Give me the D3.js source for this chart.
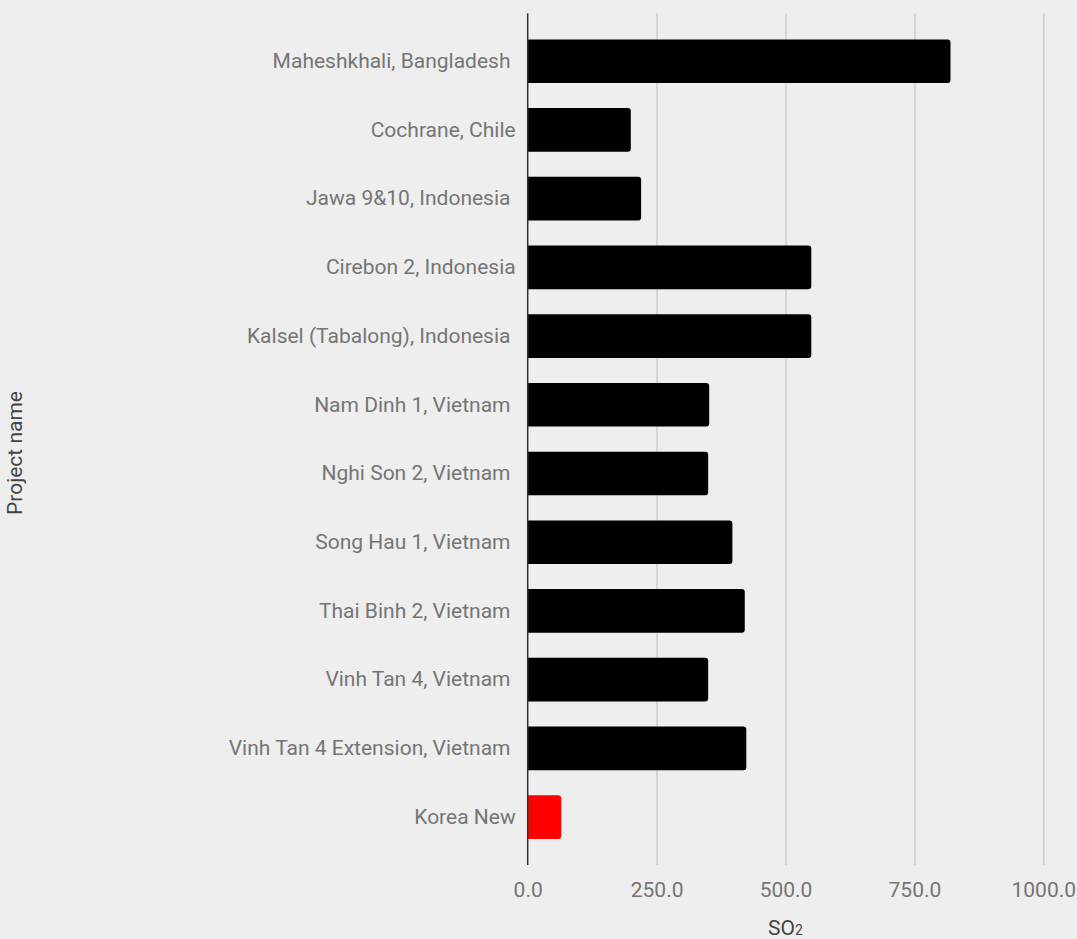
<!DOCTYPE html>
<html>
<head>
<meta charset="utf-8">
<script src="https://cdn.jsdelivr.net/npm/d3@7"></script>
<style>
  html, body { margin: 0; padding: 0; background: #eeeeee; }
  svg { display: block; font-family: Roboto, "Noto Sans", sans-serif; }
  .cat { white-space: pre; }
</style>
</head>
<body>
<script>
const categories = [
  "Maheshkhali, Bangladesh ",
  "Cochrane, Chile",
  "Jawa 9&10, Indonesia ",
  "Cirebon 2, Indonesia",
  "Kalsel (Tabalong), Indonesia ",
  "Nam Dinh 1, Vietnam ",
  "Nghi Son 2, Vietnam ",
  "Song Hau 1, Vietnam ",
  "Thai Binh 2, Vietnam ",
  "Vinh Tan 4, Vietnam ",
  "Vinh Tan 4 Extension, Vietnam ",
  "Korea New"
];
const so2Values = [820, 200, 220, 550, 550, 352, 350, 397, 421, 350, 424, 65];
const barColors = ["#000000","#000000","#000000","#000000","#000000","#000000","#000000","#000000","#000000","#000000","#000000","#ff0000"];
const tickValues = [0, 250, 500, 750, 1000];
const xTitle = "SO";
const xTitleSub = "2";
const yTitle = "Project name";

(function () {
const W = 1077, H = 939;
const svg = d3.select("body").append("svg").attr("width", W).attr("height", H);
svg.append("rect").attr("width", W).attr("height", H).attr("fill", "#eeeeee");

const pL = 527.7, pR = 1043.3, pT = 13.3, pB = 865;
const x = d3.scaleLinear().domain([0, 1000]).range([pL, pR]);
const y = d3.scaleBand().domain(categories).range([pT, pB]).paddingInner(0.365).paddingOuter(0.38);

// gridlines
const grid = svg.append("g")
  .attr("transform", `translate(0,${pB})`)
  .call(d3.axisBottom(x).tickValues(tickValues).tickSize(-(pB - pT)).tickFormat(""));
grid.select(".domain").remove();
grid.selectAll(".tick line").attr("stroke", "#cccccc").attr("stroke-width", 1.5);
grid.selectAll(".tick").filter(d => d === 0).remove();

// tick labels
const xAxis = svg.append("g")
  .attr("transform", `translate(0,${pB})`)
  .call(d3.axisBottom(x).tickValues(tickValues).tickSize(0).tickPadding(17).tickFormat(d3.format(".1f")));
xAxis.select(".domain").remove();
xAxis.selectAll("text").attr("fill", "#757575").attr("font-size", 21).attr("font-family", "Roboto");

// bars with rounded right corners
const r = 3;
function barPath(d, i) {
  const x0 = x(0), x1 = x(so2Values[i]);
  const y0 = y(d), h = y.bandwidth();
  return `M${x0},${y0}H${x1 - r}Q${x1},${y0} ${x1},${y0 + r}V${y0 + h - r}Q${x1},${y0 + h} ${x1 - r},${y0 + h}H${x0}Z`;
}
svg.append("g").selectAll("path").data(categories).join("path")
  .attr("d", barPath)
  .attr("fill", (d, i) => barColors[i]);

// y axis line
svg.append("line").attr("x1", pL).attr("x2", pL).attr("y1", pT).attr("y2", pB)
  .attr("stroke", "#333333").attr("stroke-width", 1.5);

// category labels
const yAxis = svg.append("g")
  .attr("transform", `translate(${pL},0)`)
  .call(d3.axisLeft(y).tickSize(0).tickPadding(12));
yAxis.select(".domain").remove();
yAxis.selectAll("text").attr("class", "cat").attr("fill", "#757575").attr("font-size", 21).attr("font-family", "Roboto");

// x title
const xt = svg.append("text")
  .attr("x", (pL + pR) / 2).attr("y", 935)
  .attr("text-anchor", "middle").attr("fill", "#444444").attr("font-size", 21).attr("font-family", "Roboto");
xt.append("tspan").text(xTitle);
xt.append("tspan").attr("font-size", 14).text(xTitleSub);

// y title
svg.append("text")
  .attr("transform", `translate(22,453) rotate(-90)`)
  .attr("text-anchor", "middle").attr("fill", "#444444").attr("font-size", 21).attr("font-family", "Roboto")
  .text(yTitle);
})();
</script>
</body>
</html>
